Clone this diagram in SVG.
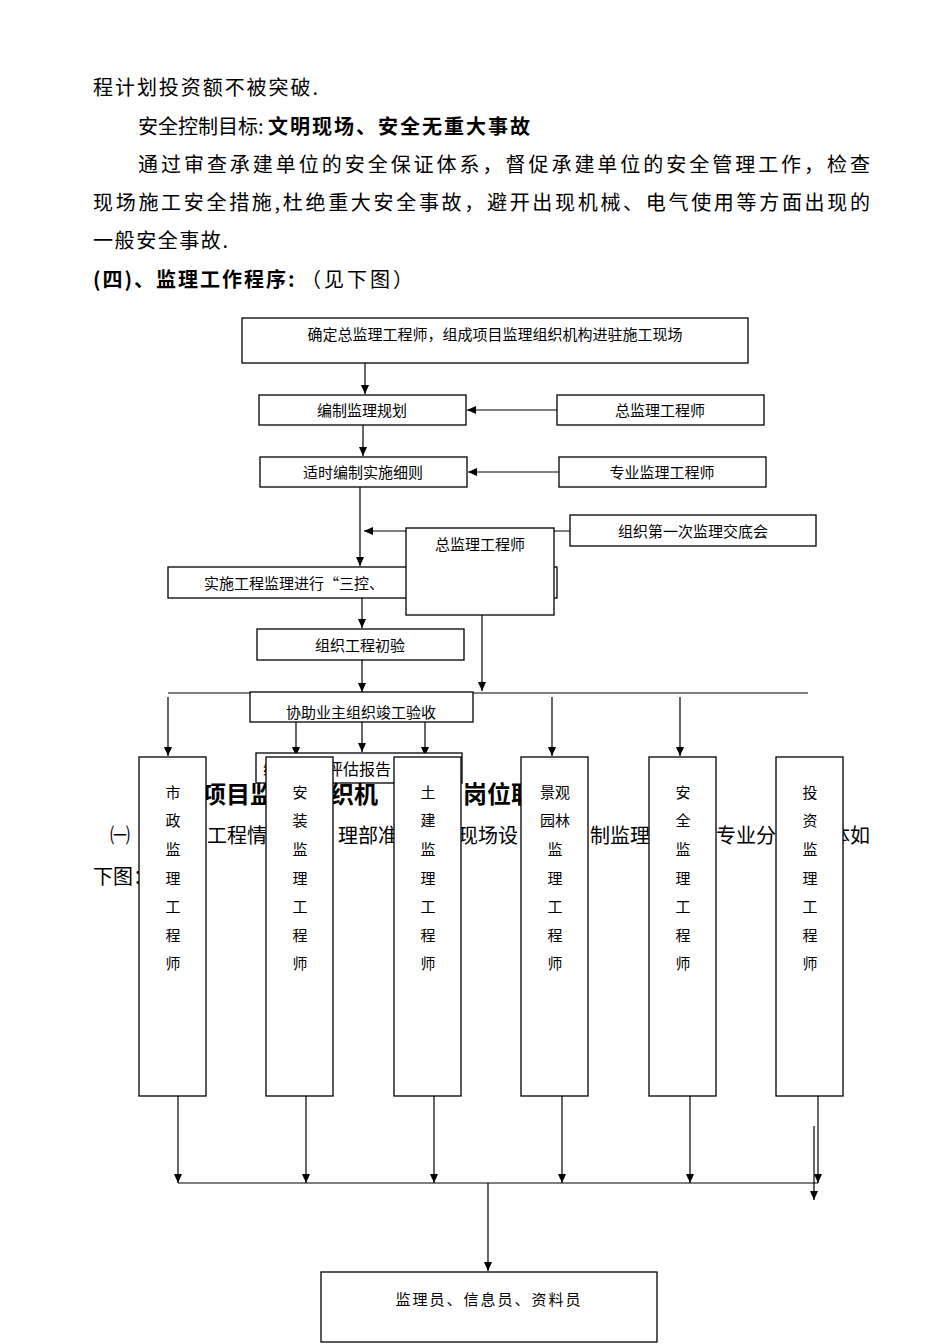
<svg xmlns="http://www.w3.org/2000/svg" width="950" height="1344" viewBox="0 0 950 1344">
<style>
.p{font-family:"Noto Sans CJK SC",sans-serif;font-size:20px;fill:#000}
.b{font-weight:bold}
.t{font-family:"Noto Sans CJK SC",sans-serif;font-size:15px;fill:#000;text-anchor:middle}
rect{fill:#fff;stroke:#000;stroke-width:1.3}
line{stroke:#000;stroke-width:1.2}
</style>
<defs><marker id="a" markerWidth="10" markerHeight="10" refX="9" refY="5" orient="auto" markerUnits="userSpaceOnUse"><path d="M0,1 L9,5 L0,9 Z" fill="#000"/></marker></defs>
<g id="text">
<text class="p" x="93" y="95" textLength="225">程计划投资额不被突破.</text>
<text class="p" x="138" y="134">安全控制目标: <tspan class="b" letter-spacing="2">文明现场、安全无重大事故</tspan></text>
<text class="p" x="138" y="172" textLength="732">通过审查承建单位的安全保证体系，督促承建单位的安全管理工作，检查</text>
<text class="p" x="93" y="210" textLength="777">现场施工安全措施,杜绝重大安全事故，避开出现机械、电气使用等方面出现的</text>
<text class="p" x="93" y="248" textLength="135">一般安全事故.</text>
<text class="p" x="93" y="287"><tspan class="b" letter-spacing="2">(四)、监理工作程序:</tspan> <tspan letter-spacing="3">（见下图）</tspan></text>
<text class="p b" x="202" y="803" style="font-size:24px">项目监</text>
<text class="p b" x="330" y="803" style="font-size:24px">织机</text>
<text class="p b" x="463" y="803" style="font-size:24px">岗位职</text>
<text class="p" x="110" y="843">㈠</text>
<text class="p" x="207" y="843">工程情</text>
<text class="p" x="338" y="843">理部准</text>
<text class="p" x="458" y="843">现场设</text>
<text class="p" x="590" y="843">制监理</text>
<text class="p" x="716" y="843">专业分</text>
<text class="p" x="830" y="843">体如</text>
<text class="p" x="93" y="884">下图：</text>
</g>
<g id="connectors">
<line x1="365" y1="363" x2="365" y2="394" marker-end="url(#a)"/>
<line x1="557" y1="410" x2="467" y2="410" marker-end="url(#a)"/>
<line x1="363" y1="425" x2="363" y2="456" marker-end="url(#a)"/>
<line x1="559" y1="472" x2="468" y2="472" marker-end="url(#a)"/>
<line x1="360" y1="487" x2="360" y2="566" marker-end="url(#a)"/>
<line x1="570" y1="531" x2="364" y2="531" marker-end="url(#a)"/>
<line x1="362" y1="598" x2="362" y2="628" marker-end="url(#a)"/>
<line x1="362" y1="660" x2="362" y2="692" marker-end="url(#a)"/>
<line x1="482" y1="615" x2="482" y2="691" marker-end="url(#a)"/>
<line x1="168" y1="693" x2="808" y2="693"/>
<line x1="362" y1="722" x2="362" y2="752" marker-end="url(#a)"/>
<line x1="168" y1="697" x2="168" y2="756" marker-end="url(#a)"/>
<line x1="296" y1="697" x2="296" y2="756" marker-end="url(#a)"/>
<line x1="425" y1="697" x2="425" y2="756" marker-end="url(#a)"/>
<line x1="552" y1="697" x2="552" y2="756" marker-end="url(#a)"/>
<line x1="680" y1="697" x2="680" y2="756" marker-end="url(#a)"/>
<line x1="178" y1="1096" x2="178" y2="1183" marker-end="url(#a)"/>
<line x1="306" y1="1096" x2="306" y2="1183" marker-end="url(#a)"/>
<line x1="434" y1="1096" x2="434" y2="1183" marker-end="url(#a)"/>
<line x1="562" y1="1096" x2="562" y2="1183" marker-end="url(#a)"/>
<line x1="690" y1="1096" x2="690" y2="1183" marker-end="url(#a)"/>
<line x1="818" y1="1096" x2="818" y2="1183" marker-end="url(#a)"/>
<line x1="814" y1="1126" x2="814" y2="1200" marker-end="url(#a)"/>
<line x1="178" y1="1183" x2="818" y2="1183"/>
<line x1="488" y1="1183" x2="488" y2="1271" marker-end="url(#a)"/>
</g>
<g id="n1"><rect x="242" y="318" width="506" height="45"/><text class="t" x="495" y="340">确定总监理工程师，组成项目监理组织机构进驻施工现场</text></g>
<g id="n2"><rect x="259" y="395" width="207" height="30"/><text class="t" x="362" y="416">编制监理规划</text></g>
<g id="n3"><rect x="557" y="395" width="207" height="30"/><text class="t" x="660" y="416">总监理工程师</text></g>
<g id="n4"><rect x="260" y="457" width="207" height="30"/><text class="t" x="363" y="478">适时编制实施细则</text></g>
<g id="n5"><rect x="559" y="457" width="207" height="30"/><text class="t" x="662" y="478">专业监理工程师</text></g>
<g id="n6"><rect x="570" y="515" width="246" height="31"/><text class="t" x="693" y="537">组织第一次监理交底会</text></g>
<g id="n7"><rect x="168" y="567" width="389" height="31"/><text class="t" x="204" y="589" style="text-anchor:start">实施工程监理进行“三控、</text></g>
<g id="n8"><rect x="406" y="528" width="148" height="87"/><text class="t" x="480" y="550">总监理工程师</text></g>
<g id="n9"><rect x="257" y="629" width="207" height="31"/><text class="t" x="360" y="651">组织工程初验</text></g>
<g id="n10"><rect x="250" y="692" width="223" height="30"/><text class="t" x="361" y="718">协助业主组织竣工验收</text></g>
<g id="n11"><rect x="256" y="753" width="206" height="30"/><text class="t" x="263" y="775" style="text-anchor:start;font-size:16px">编制质量评估报告</text></g>
<g id="n12"><rect x="139" y="757" width="67" height="339"/><text class="t"><tspan x="173" y="798">市</tspan><tspan x="173" y="826">政</tspan><tspan x="173" y="855">监</tspan><tspan x="173" y="884">理</tspan><tspan x="173" y="912">工</tspan><tspan x="173" y="941">程</tspan><tspan x="173" y="969">师</tspan></text></g>
<g id="n13"><rect x="266" y="757" width="67" height="339"/><text class="t"><tspan x="300" y="798">安</tspan><tspan x="300" y="826">装</tspan><tspan x="300" y="855">监</tspan><tspan x="300" y="884">理</tspan><tspan x="300" y="912">工</tspan><tspan x="300" y="941">程</tspan><tspan x="300" y="969">师</tspan></text></g>
<g id="n14"><rect x="394" y="757" width="67" height="339"/><text class="t"><tspan x="428" y="798">土</tspan><tspan x="428" y="826">建</tspan><tspan x="428" y="855">监</tspan><tspan x="428" y="884">理</tspan><tspan x="428" y="912">工</tspan><tspan x="428" y="941">程</tspan><tspan x="428" y="969">师</tspan></text></g>
<g id="n15"><rect x="521" y="757" width="67" height="339"/><text class="t"><tspan x="555" y="798">景观</tspan><tspan x="555" y="826">园林</tspan><tspan x="555" y="855">监</tspan><tspan x="555" y="884">理</tspan><tspan x="555" y="912">工</tspan><tspan x="555" y="941">程</tspan><tspan x="555" y="969">师</tspan></text></g>
<g id="n16"><rect x="649" y="757" width="67" height="339"/><text class="t"><tspan x="683" y="798">安</tspan><tspan x="683" y="826">全</tspan><tspan x="683" y="855">监</tspan><tspan x="683" y="884">理</tspan><tspan x="683" y="912">工</tspan><tspan x="683" y="941">程</tspan><tspan x="683" y="969">师</tspan></text></g>
<g id="n17"><rect x="776" y="757" width="67" height="339"/><text class="t"><tspan x="810" y="798">投</tspan><tspan x="810" y="826">资</tspan><tspan x="810" y="855">监</tspan><tspan x="810" y="884">理</tspan><tspan x="810" y="912">工</tspan><tspan x="810" y="941">程</tspan><tspan x="810" y="969">师</tspan></text></g>
<g id="n18"><rect x="321" y="1272" width="336" height="70"/><text class="t" x="489" y="1305" letter-spacing="2">监理员、信息员、资料员</text></g>
</svg>
